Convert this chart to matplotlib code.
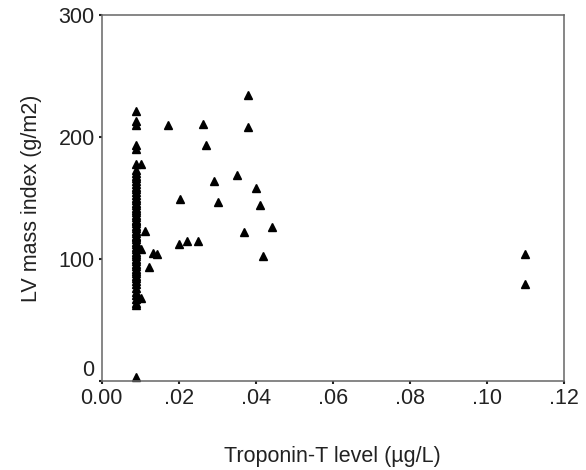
import numpy as np
import matplotlib
matplotlib.use("Agg")
import matplotlib.pyplot as plt

plt.rcParams['font.family'] = ['Liberation Sans', 'DejaVu Sans']

# patients below detection limit (troponin-T ~0.009)
low_trop_x = 0.009
low_trop_lvmi = [221, 213, 210, 193, 190, 178, 173, 170, 168, 166, 164, 161, 159,
                 157, 155, 152, 150, 148, 146, 144, 142, 140, 138, 136, 134, 132,
                 131, 129, 127, 125, 123, 121, 119, 118, 116, 114, 112, 110, 108,
                 106, 104, 102, 100, 98, 96, 94, 92, 90, 88, 86, 84, 82, 79, 76,
                 73, 70, 67, 64, 62, 3]

# remaining patients
trop = [0.0102, 0.0102, 0.0103, 0.0113, 0.0122, 0.0132, 0.0144, 0.0173, 0.0262,
        0.0272, 0.038, 0.038, 0.0202, 0.0291, 0.0302, 0.035, 0.040, 0.041, 0.037,
        0.0442, 0.020, 0.0222, 0.025, 0.042, 0.110, 0.110]
lvmi = [178, 68, 108, 123, 93, 105, 104, 210, 211,
        193, 234, 208, 149, 164, 147, 169, 158, 144, 122,
        126, 112, 115, 115, 102, 104, 79]

xticks = [0.0, 0.02, 0.04, 0.06, 0.08, 0.10, 0.12]
xtick_labels = ['0.00', '.02', '.04', '.06', '.08', '.10', '.12']
yticks = [0, 100, 200, 300]

fig = plt.figure(figsize=(5.86, 4.70), dpi=100)
ax = fig.add_axes([0.1735, 0.190, 0.789, 0.778])

ax.plot([low_trop_x] * len(low_trop_lvmi), low_trop_lvmi, linestyle='none',
        marker='^', color='black', markersize=6.2, clip_on=False)
ax.plot(trop, lvmi, linestyle='none', marker='^', color='black',
        markersize=6.2, clip_on=False)

ax.set_xlim(0, 0.12)
ax.set_ylim(0, 300)
ax.set_xticks(xticks)
ax.set_xticklabels(xtick_labels)
ax.set_yticks(yticks)
ax.tick_params(direction='out', length=2, width=1.5, pad=3, labelsize=15.5,
               colors='#222222')
ax.get_yticklabels()[0].set_va('bottom')

for side in ['left', 'bottom', 'top', 'right']:
    ax.spines[side].set_color('#666666')
    ax.spines[side].set_linewidth(1.1)

ax.set_xlabel('Troponin-T level (µg/L)', fontsize=15.5, labelpad=27, color='#222222')
ax.set_ylabel('LV mass index (g/m2)', fontsize=15.5, labelpad=12, color='#222222')

fig.savefig('out.png', dpi=100)
